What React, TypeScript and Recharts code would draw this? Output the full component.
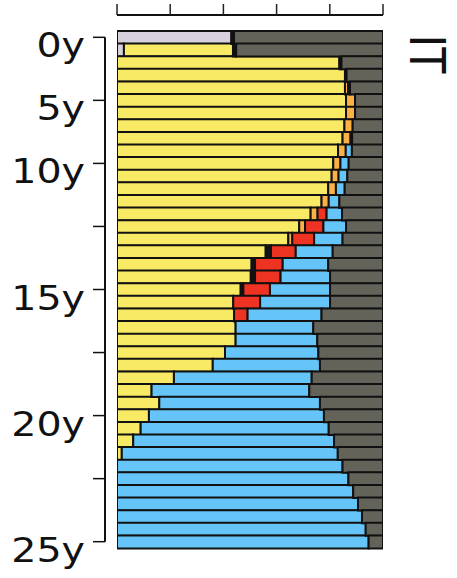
import { Bar, BarChart, XAxis, YAxis } from "recharts";

const ages = [
  "0", "1", "2", "3", "4", "5", "6", "7", "8", "9", "10",
  "10.5", "11", "11.5", "12", "12.5", "13", "13.5", "14", "14.5", "15",
  "15.5", "16", "16.5", "17", "17.5", "18", "18.5", "19", "19.5", "20",
  "20.5", "21", "21.5", "22", "22.5", "23", "23.5", "24", "24.5", "25"
];

const lavender = [
  0.43, 0.026, 0, 0, 0, 0, 0, 0, 0, 0, 0,
  0, 0, 0, 0, 0, 0, 0, 0, 0, 0,
  0, 0, 0, 0, 0, 0, 0, 0, 0, 0,
  0, 0, 0, 0, 0, 0, 0, 0, 0, 0
];
const yellow = [
  0, 0.41, 0.836, 0.857, 0.857, 0.861, 0.861, 0.855, 0.848, 0.831, 0.813,
  0.807, 0.794, 0.769, 0.728, 0.685, 0.644, 0.559, 0.506, 0.503, 0.465,
  0.437, 0.44, 0.446, 0.446, 0.406, 0.36, 0.214, 0.13, 0.159, 0.12,
  0.089, 0.061, 0.018, 0, 0, 0, 0, 0, 0, 0
];
const orange = [
  0, 0, 0, 0, 0.012, 0.034, 0.034, 0.031, 0.03, 0.029, 0.027,
  0.026, 0.029, 0.027, 0.026, 0.022, 0.015, 0, 0.006, 0, 0,
  0, 0, 0, 0, 0, 0, 0, 0, 0, 0,
  0, 0, 0, 0, 0, 0, 0, 0, 0, 0
];
const black = [
  0.01, 0.012, 0.008, 0.006, 0.007, 0, 0, 0, 0.006, 0, 0,
  0, 0, 0, 0, 0, 0, 0.02, 0.007, 0.016, 0.01,
  0, 0, 0, 0, 0, 0, 0, 0, 0, 0,
  0, 0, 0, 0, 0, 0, 0, 0, 0, 0
];
const red = [
  0, 0, 0, 0, 0, 0, 0, 0, 0, 0, 0,
  0, 0, 0, 0.034, 0.069, 0.082, 0.093, 0.104, 0.096, 0.1,
  0.101, 0.051, 0, 0, 0, 0, 0, 0, 0, 0,
  0, 0, 0, 0, 0, 0, 0, 0, 0, 0
];
const blue = [
  0, 0, 0, 0, 0, 0, 0, 0, 0, 0.023, 0.031,
  0.033, 0.033, 0.04, 0.058, 0.085, 0.107, 0.139, 0.171, 0.186, 0.226,
  0.263, 0.278, 0.292, 0.307, 0.351, 0.403, 0.518, 0.593, 0.604, 0.658,
  0.707, 0.755, 0.812, 0.848, 0.87, 0.888, 0.906, 0.921, 0.935, 0.946
];
const grey = [
  0.56, 0.552, 0.156, 0.137, 0.124, 0.105, 0.105, 0.114, 0.116, 0.117, 0.129,
  0.134, 0.144, 0.164, 0.154, 0.139, 0.152, 0.189, 0.206, 0.199, 0.199,
  0.199, 0.231, 0.262, 0.247, 0.243, 0.237, 0.268, 0.277, 0.237, 0.222,
  0.204, 0.184, 0.17, 0.152, 0.13, 0.112, 0.094, 0.079, 0.065, 0.054
];

const xTicks = [0, 0.2, 0.4, 0.6, 0.8, 1];

const data = ages.map((age, i) => ({
  age,
  lavender: lavender[i],
  yellow: yellow[i],
  orange: orange[i],
  black: black[i],
  red: red[i],
  blue: blue[i],
  grey: grey[i]
}));

const series = [
  { key: "lavender", color: "#d8d0dc" },
  { key: "yellow", color: "#f9ea65" },
  { key: "orange", color: "#fbb144" },
  { key: "black", color: "#111111" },
  { key: "red", color: "#ee3322" },
  { key: "blue", color: "#66c5f8" },
  { key: "grey", color: "#64635a" }
];

const W = 457;
const H = 578;
const TOP = 31;
const LEFT = 117;
const RIGHT = 74;
const BOTTOM = 30;
const PLOT_W = W - LEFT - RIGHT;
const PLOT_H = H - TOP - BOTTOM;
const BAND = PLOT_H / ages.length;
const FONT = "'DejaVu Sans', Verdana, sans-serif";

function TopTick(props: any) {
  const { x, index } = props;
  return (
    <g>
      <line x1={x} x2={x} y1={4} y2={15} stroke="#222" strokeWidth={1.5} />
      {index === 0 && <line x1={x} x2={x + PLOT_W} y1={15} y2={15} stroke="#111" strokeWidth={2} />}
    </g>
  );
}

function AgeTick(props: any) {
  const { y, payload } = props;
  const v = String(payload.value);
  const label = Number(v) % 5 === 0 ? `${v}y` : "";
  const axisX = 105;
  return (
    <g>
      {v === ages[0] && (
        <line x1={axisX} x2={axisX} y1={y} y2={y + BAND * (ages.length - 1)} stroke="#111" strokeWidth={2} />
      )}
      <line x1={axisX - 12} x2={axisX} y1={y} y2={y} stroke="#111" strokeWidth={1.5} />
      {label && (
        <text
          transform={`translate(85,${y + 20}) scale(1.2,1)`}
          textAnchor="end"
          fontSize={33}
          fontFamily={FONT}
          fill="#111"
        >
          {label}
        </text>
      )}
    </g>
  );
}

export default function App() {
  return (
    <div style={{ position: "relative", width: W, height: H }}>
      <style>{"body{margin:0}"}</style>
      <BarChart
        width={W}
        height={H}
        data={data}
        layout="vertical"
        barCategoryGap={0}
        barGap={0}
        margin={{ top: 0, right: RIGHT, bottom: BOTTOM, left: 0 }}
      >
        <XAxis
          type="number"
          orientation="top"
          domain={[0, 1]}
          allowDataOverflow
          ticks={xTicks}
          height={TOP}
          axisLine={false}
          tickLine={false}
          tick={<TopTick />}
        />
        <YAxis
          type="category"
          dataKey="age"
          width={LEFT}
          interval={4}
          axisLine={false}
          tickLine={false}
          tick={<AgeTick />}
        />
        {series.map((s) => (
          <Bar
            key={s.key}
            dataKey={s.key}
            stackId="a"
            fill={s.color}
            stroke="#111"
            strokeWidth={2}
            isAnimationActive={false}
          />
        ))}
      </BarChart>
      <svg width={W} height={H} style={{ position: "absolute", left: 0, top: 0, pointerEvents: "none" }}>
        <text
          transform="translate(410,54) scale(1.15,1) rotate(90)"
          textAnchor="middle"
          fontSize={43}
          fontFamily={FONT}
          fill="#111"
        >
          IT
        </text>
      </svg>
    </div>
  );
}
